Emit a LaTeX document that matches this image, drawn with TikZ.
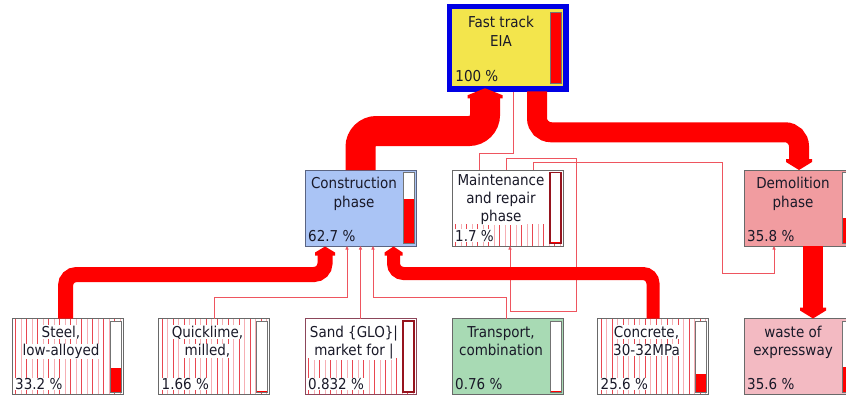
\documentclass[tikz,border=0pt]{standalone}
\usepackage{fontspec}
\setmainfont{DejaVu Sans Condensed}
\usetikzlibrary{calc,arrows.meta}
\definecolor{fy}{RGB}{243,229,76}
\definecolor{fb}{RGB}{0,0,228}
\definecolor{cb}{RGB}{170,196,245}
\definecolor{dp}{RGB}{241,156,160}
\definecolor{wp}{RGB}{243,186,194}
\definecolor{tg}{RGB}{168,218,180}
\definecolor{bgr}{RGB}{105,105,105}
\definecolor{lnk}{RGB}{238,85,95}
\definecolor{stA}{RGB}{232,70,80}
\definecolor{stB}{RGB}{246,175,180}
\definecolor{drd}{RGB}{150,20,30}
\definecolor{txt}{RGB}{25,25,40}
\newcommand{\lf}{\fontsize{15}{18}\selectfont}
\newcommand{\stripes}[4]{%
  \begin{scope}
    \clip (#1,#2) rectangle (#3,#4);
    \foreach \k in {0,...,20} {
      \draw[stA, line width=0.6pt] ({#1+3+\k*11},#2) -- ({#1+3+\k*11},#4);
      \draw[stB, line width=0.6pt] ({#1+8.5+\k*11},#2) -- ({#1+8.5+\k*11},#4);
    }
  \end{scope}}
\newcommand{\pbar}[4]{%
  \fill[white] ({#1+98},{#2+2.5}) rectangle ({#1+109},{#2+73.5});
  \fill[red] ({#1+98},{#2+73.5-71*#3}) rectangle ({#1+109},{#2+73.5});
  \draw[#4] ({#1+98},{#2+2.5}) rectangle ({#1+109},{#2+73.5});}
\begin{document}
\begin{tikzpicture}[x=1pt,y=-1pt,
  proc/.style={draw=bgr, line width=0.9pt, minimum width=111pt, minimum height=76pt,
    anchor=north west, inner sep=0pt, outer sep=0pt},
  lbl/.style={font=\lf, inner sep=0.5pt, anchor=base, text=txt},
  lblw/.style={lbl, fill=white},
  pctl/.style={lbl, anchor=base west},
  pctw/.style={lblw, anchor=base west},
  barg/.style={draw=black!55, line width=0.8pt},
  bard/.style={draw=drd, line width=1.4pt},
  band/.style={draw=red, line cap=butt},
  thin/.style={draw=lnk, line width=0.8pt},
  tipsm/.style={-{Triangle[length=3.5pt,width=3pt]}},
]
\useasboundingbox (0,0) rectangle (846,396);
\fill[white] (0,0) rectangle (846,396);

% ---------- boxes ----------
\node[proc, fill=fy, draw=fb, line width=5.5pt, minimum width=116.5pt, minimum height=82pt] (fast) at (449.25,6.75) {};
\node[proc, fill=cb, draw={rgb,255:red,90;green,100;blue,130}] (cons) at (305,170) {};
\node[proc, fill=white] (maint) at (452,170) {};
\node[proc, fill=dp] (dem) at (744,170) {};
\node[proc, fill=white] (steel) at (12,318.5) {};
\node[proc, fill=white] (quick) at (158.5,318.5) {};
\node[proc, fill=white, draw={rgb,255:red,140;green,70;blue,90}] (sand) at (305,318.5) {};
\node[proc, fill=tg] (trans) at (452,318.5) {};
\node[proc, fill=white] (conc) at (597.5,318.5) {};
\node[proc, fill=wp] (waste) at (744,318.5) {};

% ---------- stripes ----------
\stripes{12.5}{319}{122.5}{394}
\stripes{159}{319}{269}{394}
\stripes{598}{319}{708}{394}
\stripes{305.5}{358}{415.5}{394}
\stripes{452.5}{224}{562.5}{245.5}

% ---------- bars ----------
\pbar{452}{9.5}{1}{barg}
\pbar{305}{170}{0.627}{barg}
\pbar{452}{170}{0.017}{bard}
\pbar{744}{170}{0.358}{barg}
\pbar{12}{318.5}{0.332}{barg}
\pbar{158.5}{318.5}{0.0166}{barg}
\pbar{305}{318.5}{0.00832}{bard}
\pbar{452}{318.5}{0.0076}{barg}
\pbar{597.5}{318.5}{0.256}{barg}
\pbar{744}{318.5}{0.356}{barg}

% ---------- texts ----------
\node[lbl] (fastA) at ($(fast.north west)+(51.75,21)$) {Fast track};
\node[lbl] (fastB) at ($(fast.north west)+(51.75,39.5)$) {EIA};
\node[pctl] (fastP) at ($(fast.south west)+(5.5,-7.5)$) {100 \%};

\node[lbl] (consA) at ($(cons.north west)+(49,18.5)$) {Construction};
\node[lbl] (consB) at ($(cons.north west)+(49,37)$) {phase};
\node[pctl] (consP) at ($(cons.south west)+(2.5,-5)$) {62.7 \%};

\node[lblw] (maintA) at ($(maint.north west)+(49,15)$) {Maintenance};
\node[lblw] (maintB) at ($(maint.north west)+(49,33)$) {and repair};
\node[lblw] (maintC) at ($(maint.north west)+(49,51)$) {phase};
\node[pctw] (maintP) at ($(maint.south west)+(2.5,-5)$) {1.7 \%};

\node[lbl] (demA) at ($(dem.north west)+(49,18.5)$) {Demolition};
\node[lbl] (demB) at ($(dem.north west)+(49,37)$) {phase};
\node[pctl] (demP) at ($(dem.south west)+(2.5,-5)$) {35.8 \%};

\node[lblw] (steelA) at ($(steel.north west)+(49,18.5)$) {Steel,};
\node[lblw] (steelB) at ($(steel.north west)+(49,37)$) {low-alloyed};
\node[pctw] (steelP) at ($(steel.south west)+(2.5,-5)$) {33.2 \%};

\node[lblw] (quickA) at ($(quick.north west)+(49,18.5)$) {Quicklime,};
\node[lblw] (quickB) at ($(quick.north west)+(49,37)$) {milled,};
\node[pctw] (quickP) at ($(quick.south west)+(2.5,-5)$) {1.66 \%};

\node[lblw] (sandA) at ($(sand.north west)+(49,18.5)$) {Sand \{GLO\}|};
\node[lblw] (sandB) at ($(sand.north west)+(49,37)$) {market for |};
\node[pctw] (sandP) at ($(sand.south west)+(2.5,-5)$) {0.832 \%};

\node[lbl] (transA) at ($(trans.north west)+(49,18.5)$) {Transport,};
\node[lbl] (transB) at ($(trans.north west)+(49,37)$) {combination};
\node[pctl] (transP) at ($(trans.south west)+(2.5,-5)$) {0.76 \%};

\node[lblw] (concA) at ($(conc.north west)+(49,18.5)$) {Concrete,};
\node[lblw] (concB) at ($(conc.north west)+(49,37)$) {30-32MPa};
\node[pctw] (concP) at ($(conc.south west)+(2.5,-5)$) {25.6 \%};

\node[lbl] (wasteA) at ($(waste.north west)+(49,18.5)$) {waste of};
\node[lbl] (wasteB) at ($(waste.north west)+(49,37)$) {expressway};
\node[pctl] (wasteP) at ($(waste.south west)+(2.5,-5)$) {35.6 \%};

% ---------- thin links ----------
\draw[thin] ($(maint.north)+(-28.5,0)$) -- ++(0,-17) -| ($(fast.south)+(5.5,2.75)$);
\draw[thin, tipsm] ($(maint.north)+(-1.5,0)$) -- ++(0,-12) -- ++(70,0) -- ++(0,153) -- ++(-66,0) -- ($(maint.south)+(2.5,0)$);
\draw[thin, tipsm] ($(maint.north)+(25.5,0)$) -- ++(0,-8) -- ++(189,0) -- ++(0,111) -| ($(dem.south)+(-25.5,0)$);
\draw[thin, tipsm] (quick.north) -- ++(0,-21.5) -| ($(cons.south)+(-13.5,0)$);
\draw[thin, tipsm] (sand.north) -- (cons.south);
\draw[thin, tipsm] ($(trans.north)+(-1.5,0)$) -- ++(0,-21.5) -| ($(cons.south)+(12.5,0)$);

% ---------- thick bands ----------
% construction -> fast track
\draw[band, line width=30pt, rounded corners=16pt] (cons.north) -- ++(0,-39) -| ($(fast.south)+(-22.5,8)$);
\fill[red] ($(fast.south)+(-22.5,-0.5)$) -- ++(17.5,7) -- ++(0,3) -- ++(-35,0) -- ++(0,-3) -- cycle;
% fast track -> demolition
\draw[band, line width=20pt, rounded corners=14pt] ($(fast.south)+(29.5,2.5)$) -- ++(0,41) -| ($(dem.north)+(-0.5,-9)$);
\fill[red] ($(dem.north)+(-0.5,0)$) -- ++(13,-8) -- ++(0,-3) -- ++(-26,0) -- ++(0,3) -- cycle;
% demolition -> waste
\draw[band, line width=20pt] ($(dem.south)+(13.5,0)$) -- ($(waste.north)+(13.5,-9)$);
\fill[red] ($(waste.north)+(13.5,0)$) -- ++(13,-8) -- ++(0,-3) -- ++(-26,0) -- ++(0,3) -- cycle;
% steel -> construction
\draw[band, line width=15pt, rounded corners=11pt] ($(steel.north)+(-2,0)$) -- ++(0,-44) -| ($(cons.south)+(-35.5,7)$);
\fill[red] ($(cons.south)+(-35.5,0.5)$) -- ++(10,6) -- ++(0,3) -- ++(-20,0) -- ++(0,-3) -- cycle;
% concrete -> construction
\draw[band, line width=13pt, rounded corners=10pt] (conc.north) -- ++(0,-45) -| ($(cons.south)+(33,7)$);
\fill[red] ($(cons.south)+(33,0.5)$) -- ++(9,6) -- ++(0,3) -- ++(-18,0) -- ++(0,-3) -- cycle;
\end{tikzpicture}
\end{document}
